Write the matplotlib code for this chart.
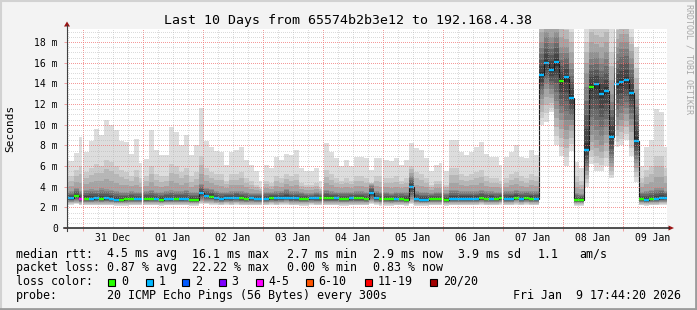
import numpy as np
import matplotlib
matplotlib.use("Agg")
import matplotlib.pyplot as plt
import matplotlib.dates as mdates
from matplotlib.ticker import MultipleLocator, NullFormatter, FuncFormatter
from matplotlib.patches import Rectangle, Polygon
from matplotlib.lines import Line2D
from matplotlib.transforms import blended_transform_factory
from datetime import datetime, timedelta

# ---------------- data (2-hour consolidated bins) ----------------
bin_start = datetime(2025, 12, 30, 16, 40)
bin_hours = 2
view_start = datetime(2025, 12, 30, 17, 44, 20)
view_end = datetime(2026, 1, 9, 17, 44, 20)

# median RTT in ms
median = [2.87, 2.87, 3.10, 2.80, 2.85, 2.85, 2.87, 2.85, 2.87, 2.85,
          2.72, 2.72, 2.78, 2.80, 2.80, 2.80, 2.78, 2.80, 2.80, 2.75,
          2.80, 2.78, 2.80, 2.78, 2.80, 2.75, 2.72, 3.35, 3.10, 3.05,
          2.90, 2.85, 2.90, 2.87, 2.95, 2.87, 2.85, 2.87, 2.85, 2.85,
          2.85, 2.90, 2.87, 2.90, 2.95, 2.87, 2.87, 2.83, 2.83, 2.90,
          2.87, 2.87, 2.87, 2.87, 2.87, 2.83, 2.83, 2.87, 2.87, 2.87,
          2.80, 3.35, 2.90, 2.80, 2.80, 2.78, 2.80, 2.80, 2.75, 4.00,
          2.80, 2.75, 2.75, 2.80, 2.85, 2.80, 2.75, 2.85, 2.85, 2.85,
          2.85, 2.85, 2.85, 2.90, 2.82, 2.85, 2.82, 2.90, 2.80, 2.85,
          2.95, 2.82, 2.90, 2.85, 2.82, 14.8, 16.0, 15.3, 16.1, 14.2,
          14.6, 12.6, 2.75, 2.75, 7.6, 13.7, 13.9, 13.0, 13.3, 8.8,
          13.9, 14.1, 14.3, 13.1, 8.4, 2.85, 2.75, 2.80, 2.85, 2.90,
          2.95]

# lost pings (of 20) per bin
loss = [1, 1, 0, 4, 0, 1, 1, 0, 1, 1,
        1, 0, 0, 0, 1, 1, 0, 0, 1, 0,
        1, 1, 0, 1, 1, 0, 0, 1, 1, 0,
        1, 1, 1, 1, 1, 0, 0, 1, 1, 1,
        1, 0, 1, 1, 1, 1, 1, 0, 0, 1,
        1, 0, 0, 0, 1, 0, 0, 1, 0, 0,
        0, 1, 1, 0, 0, 0, 1, 0, 0, 1,
        1, 1, 1, 0, 0, 0, 0, 1, 1, 1,
        1, 1, 1, 0, 0, 1, 0, 0, 1, 1,
        0, 1, 0, 0, 1, 1, 1, 1, 1, 0,
        1, 1, 0, 0, 1, 0, 1, 1, 1, 1,
        1, 1, 1, 1, 1, 0, 1, 0, 1, 1,
        1]

# smoke: sorted-ping values at ranks 1, 5, 16, 19, 20 (ms)
ping_min = [2.25, 2.25, 2.30, 2.20, 2.20, 2.20, 2.20, 2.20, 2.20, 2.20,
            2.15, 2.15, 2.15, 2.20, 2.20, 2.20, 2.20, 2.20, 2.20, 2.15,
            2.20, 2.20, 2.20, 2.20, 2.20, 2.15, 2.15, 2.30, 2.30, 2.25,
            2.20, 2.20, 2.25, 2.20, 2.25, 2.20, 2.20, 2.20, 2.20, 2.20,
            2.20, 2.25, 2.20, 2.25, 2.25, 2.20, 2.20, 2.15, 2.15, 2.20,
            2.20, 2.20, 2.20, 2.20, 2.20, 2.15, 2.15, 2.20, 2.20, 2.20,
            2.20, 2.30, 2.25, 2.15, 2.15, 2.15, 2.20, 2.20, 2.15, 2.30,
            2.15, 2.15, 2.15, 2.20, 2.20, 2.20, 2.15, 2.20, 2.20, 2.20,
            2.20, 2.20, 2.20, 2.25, 2.20, 2.20, 2.20, 2.25, 2.20, 2.20,
            2.25, 2.20, 2.25, 2.20, 2.20, 10.0, 10.3, 11.2, 8.0, 7.0,
            6.0, 7.5, 2.15, 2.15, 4.0, 6.2, 5.5, 5.5, 6.0, 4.8,
            7.8, 8.0, 8.5, 7.0, 4.5, 2.20, 2.15, 2.20, 2.20, 2.25,
            2.25]

ping_5 = [2.55, 2.55, 2.60, 2.50, 2.50, 2.50, 2.50, 2.50, 2.50, 2.50,
          2.45, 2.45, 2.45, 2.50, 2.50, 2.50, 2.50, 2.50, 2.50, 2.45,
          2.50, 2.50, 2.50, 2.50, 2.50, 2.45, 2.45, 2.70, 2.60, 2.60,
          2.55, 2.50, 2.55, 2.50, 2.55, 2.50, 2.50, 2.50, 2.50, 2.50,
          2.50, 2.55, 2.50, 2.55, 2.60, 2.50, 2.50, 2.50, 2.50, 2.55,
          2.50, 2.50, 2.50, 2.50, 2.50, 2.50, 2.50, 2.50, 2.50, 2.50,
          2.50, 2.70, 2.55, 2.50, 2.50, 2.45, 2.50, 2.50, 2.45, 2.80,
          2.50, 2.45, 2.45, 2.50, 2.50, 2.50, 2.45, 2.50, 2.50, 2.50,
          2.50, 2.50, 2.50, 2.55, 2.50, 2.50, 2.50, 2.55, 2.50, 2.50,
          2.60, 2.50, 2.55, 2.50, 2.50, 12.5, 13.5, 13.0, 11.5, 10.5,
          9.5, 10.0, 2.45, 2.45, 5.5, 9.0, 8.5, 8.0, 9.0, 6.3,
          10.0, 10.5, 11.0, 10.0, 6.3, 2.50, 2.45, 2.50, 2.50, 2.55,
          2.55]

ping_16 = [3.5, 3.6, 3.9, 3.6, 3.7, 3.8, 3.7, 3.9, 3.8, 3.7,
           3.6, 3.5, 3.5, 3.6, 3.5, 3.5, 3.6, 3.7, 3.5, 3.5,
           3.6, 3.7, 3.6, 3.6, 3.7, 3.5, 3.5, 4.3, 3.9, 3.8,
           3.6, 3.5, 3.5, 3.6, 3.6, 3.6, 3.5, 3.4, 3.4, 3.4,
           3.5, 3.5, 3.6, 3.6, 3.8, 3.6, 3.6, 3.5, 3.4, 3.4,
           3.5, 3.4, 3.7, 3.6, 3.5, 3.5, 3.5, 3.5, 3.6, 3.6,
           3.5, 4.2, 3.6, 3.5, 3.5, 3.4, 3.5, 3.5, 3.5, 5.0,
           3.6, 3.5, 3.5, 3.4, 3.5, 3.5, 3.4, 3.7, 3.7, 3.6,
           3.6, 3.6, 3.6, 3.7, 3.6, 3.6, 3.5, 3.5, 3.6, 3.6,
           3.7, 3.6, 3.6, 3.6, 3.6, 18.0, 19.0, 18.5, 19.0, 17.5,
           17.5, 16.0, 3.4, 3.3, 15.0, 17.0, 17.0, 16.5, 17.0, 13.0,
           17.5, 18.0, 18.0, 16.5, 12.5, 3.5, 3.6, 3.7, 3.9, 3.9,
           3.6]

ping_19 = [5.0, 5.0, 5.6, 6.0, 5.4, 5.8, 6.2, 6.0, 6.6, 6.4,
           6.0, 5.6, 5.4, 5.0, 5.6, 4.8, 5.0, 6.0, 5.2, 5.0,
           5.0, 6.2, 6.0, 5.4, 5.8, 5.0, 5.4, 7.0, 5.8, 5.4,
           5.2, 5.2, 4.6, 5.2, 5.2, 5.4, 4.8, 4.6, 4.2, 3.9,
           4.6, 4.4, 5.0, 4.8, 5.2, 5.0, 5.2, 4.4, 4.2, 4.2,
           4.4, 3.9, 5.6, 5.2, 4.8, 4.6, 4.8, 4.6, 5.0, 5.0,
           4.8, 4.4, 5.0, 5.0, 4.8, 4.8, 5.0, 4.6, 4.8, 6.0,
           5.4, 5.2, 4.8, 4.2, 4.6, 4.6, 4.2, 5.8, 5.8, 5.2,
           5.0, 5.2, 5.4, 5.6, 5.0, 4.8, 4.8, 4.6, 4.8, 5.2,
           5.4, 5.0, 4.8, 5.2, 5.0, 21.0, 22.0, 21.0, 22.0, 20.5,
           20.0, 19.0, 5.0, 4.6, 18.0, 20.0, 19.5, 19.5, 20.0, 17.0,
           20.0, 20.5, 20.5, 18.5, 15.5, 4.8, 5.6, 6.0, 7.0, 7.0,
           5.8]

ping_max = [6.5, 6.5, 7.3, 8.8, 7.4, 8.4, 9.6, 9.0, 10.5, 10.0,
            9.5, 8.4, 8.3, 7.2, 8.6, 6.3, 6.7, 9.5, 7.6, 7.1,
            7.1, 9.8, 9.3, 8.0, 9.0, 7.1, 8.0, 11.6, 8.4, 7.8,
            7.5, 7.4, 6.1, 7.4, 7.6, 7.8, 6.6, 6.1, 5.5, 4.6,
            6.1, 5.8, 6.9, 6.6, 7.2, 7.1, 7.6, 5.8, 5.5, 5.5,
            5.8, 4.6, 8.2, 7.4, 6.8, 6.0, 6.6, 6.0, 6.9, 6.9,
            6.8, 5.6, 6.8, 6.8, 6.6, 6.5, 6.8, 6.1, 6.6, 8.2,
            7.7, 7.6, 6.8, 5.5, 6.1, 6.3, 5.5, 8.5, 8.5, 7.4,
            7.1, 7.4, 7.8, 8.3, 7.2, 6.9, 6.9, 6.1, 6.9, 7.4,
            8.0, 6.9, 6.8, 7.6, 7.1, 23.0, 24.0, 24.0, 24.0, 23.0,
            22.0, 21.0, 6.4, 5.8, 21.0, 22.0, 21.5, 21.5, 22.0, 20.0,
            22.0, 22.0, 22.0, 20.0, 17.5, 6.0, 7.8, 8.5, 11.5, 11.2,
            7.8]

# missing samples (short data gaps)
gap_times = ["2025-12-30 23:35", "2025-12-31 23:35", "2026-01-02 23:35",
             "2026-01-03 23:35", "2026-01-04 23:35", "2026-01-05 23:35",
             "2026-01-06 23:35", "2026-01-08 20:55"]

loss_buckets = [("0", 0, 0, "#26ff00"), ("1", 1, 1, "#00b8ff"),
                ("2", 2, 2, "#0059ff"), ("3", 3, 3, "#7e00ff"),
                ("4-5", 4, 5, "#ff00ff"), ("6-10", 6, 10, "#ff5500"),
                ("11-19", 11, 19, "#ff0000"), ("20/20", 20, 20, "#a10000")]

y_top = 19.32
title = "Last 10 Days from 65574b2b3e12 to 192.168.4.38"
stats_rtt = [("median rtt:", 16), ("4.5 ms avg", 107.3), ("16.1 ms max", 192.3),
             ("2.7 ms min", 287.3), ("2.9 ms now", 372.7), ("3.9 ms sd", 458.3),
             ("1.1", 537.3), ("am/s", 579.3)]
stats_loss = [("packet loss:", 16), ("0.87 % avg", 107.3), ("22.22 % max", 192.0),
              ("0.00 % min", 287.3), ("0.83 % now", 372.7)]
probe_txt = "20 ICMP Echo Pings (56 Bytes) every 300s"
stamp_txt = "Fri Jan  9 17:44:20 2026"

# ---------------- figure ----------------
W, H = 697, 310
MONO = "DejaVu Sans Mono"
fig = plt.figure(figsize=(W / 100, H / 100), dpi=100, facecolor="#f3f3f3")


def fx(px):
    return px / W


def fy(py):
    return 1 - py / H


ax = fig.add_axes([fx(67), fy(228), 600 / W, (228 - 28.5) / H])
ax.set_facecolor("white")

n = len(median)
edges = mdates.date2num([bin_start + timedelta(hours=bin_hours * k) for k in range(n + 1)])
med = np.array(median)
Q = np.vstack([ping_min, ping_5, median, ping_16, ping_19, ping_max])
ranks = [1, 5, 10.5, 16, 19, 20]

# smokeping style smoke: nested bands of sorted pings
for i in range(1, 11):
    lo = np.array([np.interp(i, ranks, Q[:, j]) for j in range(n)])
    hi = np.array([np.interp(21 - i, ranks, Q[:, j]) for j in range(n)])
    g = (int(190 / 10 * (10 - i)) + 50) / 255
    ax.stairs(hi, edges, baseline=lo, fill=True, color=(g, g, g), lw=0, zorder=1)

# median line
ax.stairs(med, edges, baseline=None, color="#1a1a1a", lw=0.8, zorder=1.1)
lossa = np.array(loss)
for lab, a, b, col in loss_buckets:
    m = (lossa >= a) & (lossa <= b)
    if m.any():
        ax.hlines(med[m], edges[:-1][m], edges[1:][m], colors=col, lw=1.7, zorder=1.2)

for gt in gap_times:
    ax.axvline(mdates.date2num(datetime.strptime(gt, "%Y-%m-%d %H:%M")),
               color="white", lw=0.9, zorder=1.3)

ax.set_xlim(mdates.date2num(view_start), mdates.date2num(view_end))
ax.set_ylim(0, y_top)

ax.xaxis.set_major_locator(mdates.DayLocator())
ax.xaxis.set_minor_locator(mdates.HourLocator(byhour=[6, 12, 18]))
ax.xaxis.set_major_formatter(NullFormatter())
ax.yaxis.set_major_locator(MultipleLocator(2))
ax.yaxis.set_minor_locator(MultipleLocator(0.5))
ax.yaxis.set_major_formatter(FuncFormatter(lambda v, p: "0" if abs(v) < 1e-9 else f"{v:g} m"))

ax.set_axisbelow("line")
ax.grid(which="major", color="#f07070", alpha=0.7, ls=(0, (1, 1.4)), lw=0.72,
        antialiased=False)
ax.grid(which="minor", color="#b0b0b0", alpha=0.45, ls=(0, (1, 1.4)), lw=0.72,
        antialiased=False)
ax.tick_params(which="major", length=2, width=0.72, color="#f0a0a0",
               labelsize=7, pad=4.6)
ax.tick_params(which="minor", length=0)
for lbl in ax.get_yticklabels():
    lbl.set_fontfamily(MONO)
for s in ax.spines.values():
    s.set_visible(False)

# day labels centered at noon
trans = blended_transform_factory(ax.transData, ax.transAxes)
d = datetime(view_start.year, view_start.month, view_start.day) + timedelta(days=1)
while d < view_end:
    noon = d + timedelta(hours=12)
    if noon < view_end:
        ax.text(mdates.date2num(noon), -(240.7 - 228) / 199.5, noon.strftime("%d %b"),
                transform=trans, ha="center", va="baseline", fontsize=7, family=MONO)
    d += timedelta(days=1)

# axis lines and arrows
fig.add_artist(Line2D([fx(64), fx(669)], [fy(228), fy(228)], transform=fig.transFigure,
                      color="#202020", lw=1.1))
fig.add_artist(Line2D([fx(67), fx(67)], [fy(231), fy(25)], transform=fig.transFigure,
                      color="#404040", lw=0.8))
fig.add_artist(Polygon([(fx(64), fy(26.5)), (fx(70), fy(26.5)), (fx(67), fy(21.5))],
                       closed=True, transform=fig.transFigure, color="#9a1414", lw=0))
fig.add_artist(Polygon([(fx(668.5), fy(225.5)), (fx(668.5), fy(230.5)), (fx(674), fy(228))],
                       closed=True, transform=fig.transFigure, color="#9a1414", lw=0))

# texts
fig.text(fx(348), fy(24), title, ha="center", va="baseline", fontsize=9.5, family=MONO)
fig.text(fx(10), fy(128), "Seconds", rotation=90, ha="center", va="center",
         fontsize=8, family=MONO)
fig.text(fx(689), fy(59), "RRDTOOL / TOBI OETIKER", rotation=270, ha="center",
         va="center", fontsize=6, family=MONO, color="#a8a8a8")

FS = 8.4
for txt, x in stats_rtt:
    fig.text(fx(x), fy(257.5), txt, ha="left", va="baseline", fontsize=FS, family=MONO)
for txt, x in stats_loss:
    fig.text(fx(x), fy(271.3), txt, ha="left", va="baseline", fontsize=FS, family=MONO)
fig.text(fx(16), fy(285), "loss color:", ha="left", va="baseline", fontsize=FS, family=MONO)
sq_x = [108.3, 145.7, 182, 219, 256, 306, 365.3, 430]
for (lab, a, b, col), x in zip(loss_buckets, sq_x):
    fig.add_artist(Rectangle((fx(x), fy(285.5)), 7 / W, 7 / H, transform=fig.transFigure,
                             facecolor=col, edgecolor="black", lw=0.8))
    fig.text(fx(x + 12.7), fy(285), lab, ha="left", va="baseline", fontsize=FS, family=MONO)
fig.text(fx(16), fy(299), "probe:", ha="left", va="baseline", fontsize=FS, family=MONO)
fig.text(fx(107.3), fy(299), probe_txt, ha="left", va="baseline", fontsize=FS, family=MONO)
fig.text(fx(513.3), fy(299), stamp_txt, ha="left", va="baseline", fontsize=FS, family=MONO)

# 3D-ish frame
fig.add_artist(Line2D([0, 1], [fy(1), fy(1)], transform=fig.transFigure, color="#d2d2d2", lw=1.5))
fig.add_artist(Line2D([fx(1), fx(1)], [0, 1], transform=fig.transFigure, color="#d2d2d2", lw=1.5))
fig.add_artist(Line2D([0, 1], [fy(309), fy(309)], transform=fig.transFigure, color="#9c9c9c", lw=2))
fig.add_artist(Line2D([fx(696), fx(696)], [0, 1], transform=fig.transFigure, color="#9c9c9c", lw=2))

fig.savefig("out.png", dpi=100, facecolor=fig.get_facecolor())
